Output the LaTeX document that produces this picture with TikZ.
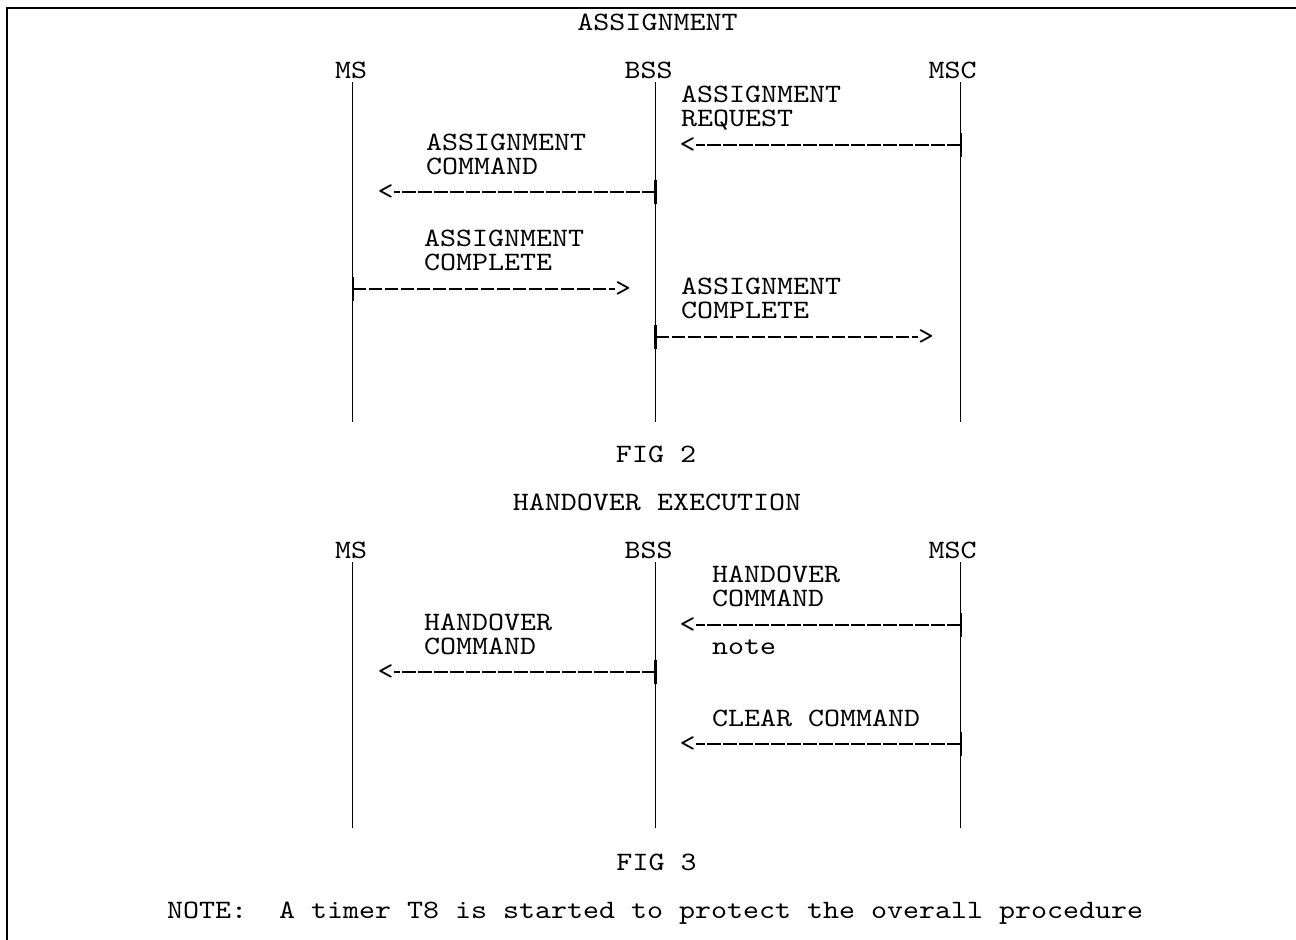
\documentclass[tikz,border=0pt]{standalone}
\usepackage{fontspec}
\newfontfamily\cour{lmmono10-regular.otf}[FakeStretch=1.15]
\begin{document}
\begin{tikzpicture}[x=0.75pt,y=-0.75pt,
  txt/.style={font={\cour\fontsize{19.88pt}{18pt}\selectfont\frenchspacing}, inner sep=0pt, outer sep=0pt, text=black},
  lbl/.style={txt, anchor=base west},
  ctr/.style={txt, anchor=base},
  headl/.style={txt, anchor=west},
  headr/.style={txt, anchor=east},
  life/.style={line width=1pt},
  msg/.style={line width=1.2pt, dash pattern=on 10pt off 2pt},
  tickmark/.style={line width=1.6pt},
  frame/.style={line width=1.8pt}]
\useasboundingbox (0,0) rectangle (1296,939);
% frame
\draw[frame] (7,945) -- (7,8) -- (1300,8);

% ---------------- FIG 2 ----------------
\node[ctr] (t2) at (657.5,30) {ASSIGNMENT};
\node[ctr] (ms2) at (351,78) {MS};
\node[ctr] (bss2) at (648.5,78) {BSS};
\node[ctr] (msc2) at (952.5,78) {MSC};
\coordinate (ms2t) at (352.7,82);  \coordinate (ms2b) at (352.7,422);
\coordinate (bss2t) at (655.5,82); \coordinate (bss2b) at (655.5,422);
\coordinate (msc2t) at (960.7,82); \coordinate (msc2b) at (960.7,422);
\draw[life] (ms2t) -- (ms2b);
\draw[life] (bss2t) -- (bss2b);
\draw[life] (msc2t) -- (msc2b);

\node[lbl] (l1a) at (681,102) {ASSIGNMENT};
\node[lbl] (l1b) at (681,126) {REQUEST};
\coordinate (a1) at (960.7,145);
\node[headl] (h1) at (679.5,145) {<};
\draw[msg] (a1) -- (h1.east);
\draw[tickmark] ([yshift=9pt]a1) -- ([yshift=-9pt]a1);

\node[lbl] (l2a) at (426,150) {ASSIGNMENT};
\node[lbl] (l2b) at (426,174) {COMMAND};
\coordinate (a2) at (655.5,192);
\node[headl] (h2) at (377.5,192) {<};
\draw[msg] (a2) -- (h2.east);
\draw[tickmark] ([yshift=9pt]a2) -- ([yshift=-9pt]a2);

\node[lbl] (l3a) at (424,246) {ASSIGNMENT};
\node[lbl] (l3b) at (424,270) {COMPLETE};
\coordinate (a3) at (352.7,289);
\node[headr] (h3) at (631,289) {>};
\draw[msg] (a3) -- (h3.west);
\draw[tickmark] ([yshift=9pt]a3) -- ([yshift=-9pt]a3);

\node[lbl] (l4a) at (681,294) {ASSIGNMENT};
\node[lbl] (l4b) at (681,318) {COMPLETE};
\coordinate (a4) at (655.5,337);
\node[headr] (h4) at (934,337) {>};
\draw[msg] (a4) -- (h4.west);
\draw[tickmark] ([yshift=9pt]a4) -- ([yshift=-9pt]a4);

\node[ctr] (f2) at (656,462) {FIG 2};

% ---------------- FIG 3 ----------------
\node[ctr] (t3) at (657,510) {HANDOVER EXECUTION};
\node[ctr] (ms3) at (351,558) {MS};
\node[ctr] (bss3) at (648.5,558) {BSS};
\node[ctr] (msc3) at (952.5,558) {MSC};
\coordinate (ms3t) at (352.7,562);  \coordinate (ms3b) at (352.7,828);
\coordinate (bss3t) at (655.5,562); \coordinate (bss3b) at (655.5,828);
\coordinate (msc3t) at (960.7,562); \coordinate (msc3b) at (960.7,828);
\draw[life] (ms3t) -- (ms3b);
\draw[life] (bss3t) -- (bss3b);
\draw[life] (msc3t) -- (msc3b);

\node[lbl] (l5a) at (712,582) {HANDOVER};
\node[lbl] (l5b) at (712,606) {COMMAND};
\coordinate (a5) at (960.7,625);
\node[headl] (h5) at (679.5,625) {<};
\draw[msg] (a5) -- (h5.east);
\draw[tickmark] ([yshift=9pt]a5) -- ([yshift=-9pt]a5);
\node[lbl] (n5) at (712,654) {note};

\node[lbl] (l6a) at (424,630) {HANDOVER};
\node[lbl] (l6b) at (424,654) {COMMAND};
\coordinate (a6) at (655.5,672);
\node[headl] (h6) at (377.5,672) {<};
\draw[msg] (a6) -- (h6.east);
\draw[tickmark] ([yshift=9pt]a6) -- ([yshift=-9pt]a6);

\node[lbl] (l7) at (712,726) {CLEAR COMMAND};
\coordinate (a7) at (960.7,744);
\node[headl] (h7) at (679.5,744) {<};
\draw[msg] (a7) -- (h7.east);
\draw[tickmark] ([yshift=9pt]a7) -- ([yshift=-9pt]a7);

\node[ctr] (f3) at (656.5,870) {FIG 3};
\node[lbl] (note) at (167,918) {NOTE:\ \ A timer T8 is started to protect the overall procedure};
\end{tikzpicture}
\end{document}
